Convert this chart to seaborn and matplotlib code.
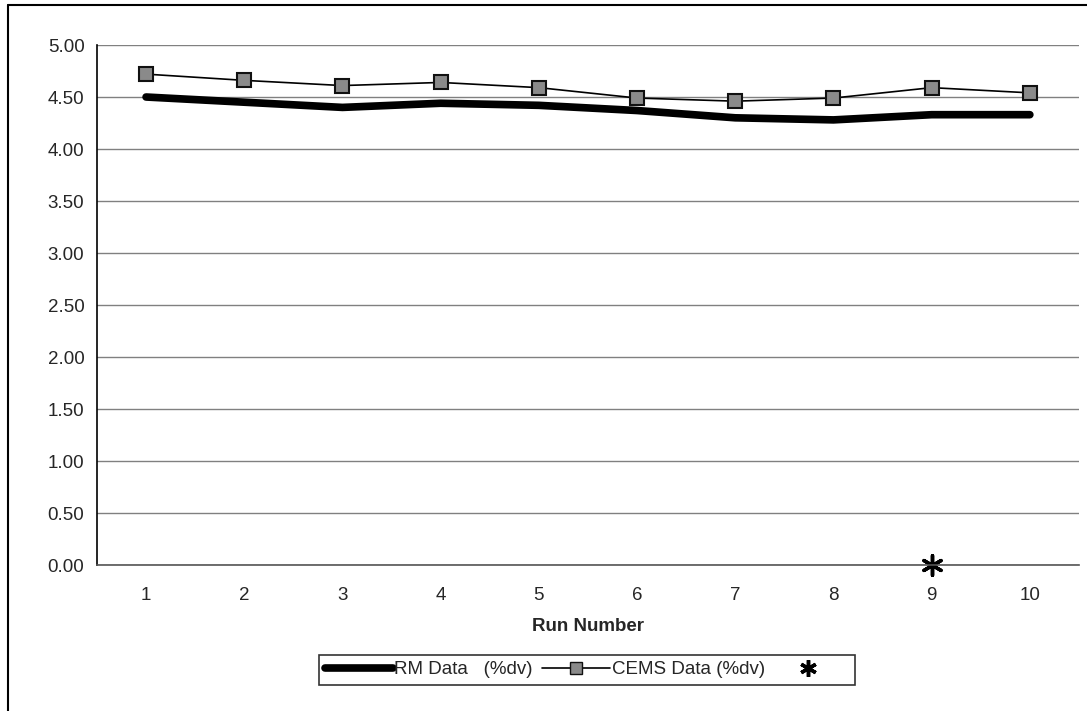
import pandas as pd
import seaborn as sns
import matplotlib.pyplot as plt
from matplotlib.lines import Line2D

runs = [1, 2, 3, 4, 5, 6, 7, 8, 9, 10]
rm_data = [4.50, 4.45, 4.40, 4.44, 4.42, 4.37, 4.30, 4.28, 4.33, 4.33]
cems_data = [4.72, 4.66, 4.61, 4.64, 4.59, 4.49, 4.46, 4.49, 4.59, 4.54]
extra_run = [9]
extra_val = [0.00]
y_ticks = [0.0, 0.5, 1.0, 1.5, 2.0, 2.5, 3.0, 3.5, 4.0, 4.5, 5.0]

sns.set_style('white')
plt.rcParams['font.family'] = ['Liberation Sans', 'DejaVu Sans']

df = pd.DataFrame({'run': runs, 'rm': rm_data, 'cems': cems_data})
df_x = pd.DataFrame({'run': extra_run, 'val': extra_val})

fig = plt.figure(figsize=(10.87, 7.11), dpi=100)
ax = fig.add_axes([0.0892, 0.2053, 0.9034, 0.7314])

sns.lineplot(data=df, x='run', y='rm', ax=ax, color='black', linewidth=5.5,
             solid_capstyle='round', label='RM Data   (%dv)', legend=False)
sns.lineplot(data=df, x='run', y='cems', ax=ax, color='black', linewidth=1.2,
             marker='s', markersize=10, markerfacecolor='#8a8a8a',
             markeredgecolor='#111111', markeredgewidth=1.5,
             label='CEMS Data (%dv)', legend=False)
sns.scatterplot(data=df_x, x='run', y='val', ax=ax, marker=(6, 2, 0), s=200,
                color='black', linewidth=2.5, label=' ', legend=False, clip_on=False)

ax.set_xlim(0.5, 10.5)
ax.set_ylim(0, 5)
ax.set_yticks(y_ticks)
ax.set_yticklabels([f'{v:.2f}' for v in y_ticks])
ax.set_xticks(runs)
ax.set_xticks([r - 0.5 for r in runs] + [10.5], minor=True)
ax.tick_params(axis='x', which='major', length=0, pad=16, labelsize=13.5)
ax.tick_params(axis='x', which='minor', length=5, width=1, direction='out', color='black')
ax.tick_params(axis='y', length=7, width=1, color='#555555', direction='out', pad=2, labelsize=13.5)
ax.yaxis.grid(True, color='#808080', linewidth=1)
ax.set_axisbelow(True)

for s in ['top', 'right']:
    ax.spines[s].set_visible(False)
ax.spines['left'].set_color('black')
ax.spines['bottom'].set_color('#555555')
ax.spines['left'].set_linewidth(1.2)
ax.spines['bottom'].set_linewidth(1.2)

ax.set_xlabel('Run Number', fontsize=13.5, fontweight='bold', labelpad=10)
ax.set_ylabel('')

handles = [
    Line2D([], [], color='black', linewidth=5.5, solid_capstyle='round'),
    Line2D([], [], color='black', linewidth=1.2, marker='s', markersize=9,
           markerfacecolor='#8a8a8a', markeredgecolor='#111111'),
    Line2D([], [], color='black', linestyle='none', marker=(6, 2, 0),
           markersize=12, markeredgewidth=2.5),
]
leg = fig.legend(handles, ['RM Data   (%dv)', 'CEMS Data (%dv)', ' '],
                 loc='center', bbox_to_anchor=(0.54, 0.058), ncol=3,
                 fontsize=13.5, frameon=True, fancybox=False, handlelength=3.6,
                 handletextpad=0.1, columnspacing=0.5, borderpad=0.35)
leg.get_frame().set_edgecolor('black')
leg.get_frame().set_linewidth(1.2)

# chart area border (left and top edges visible in the reference)
fig.add_artist(Line2D([0.007, 0.007], [0.0, 0.993], color='black', linewidth=1.5,
                      transform=fig.transFigure))
fig.add_artist(Line2D([0.007, 1.0], [0.993, 0.993], color='black', linewidth=1.5,
                      transform=fig.transFigure))

fig.savefig('out.png', dpi=100)
